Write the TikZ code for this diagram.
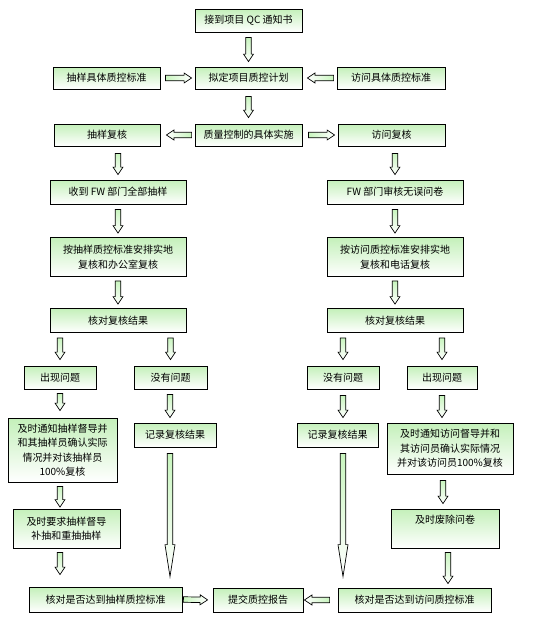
\documentclass[tikz,border=0pt]{standalone}
\usepackage{fontspec}
\setmainfont{Noto Sans CJK SC}
\usetikzlibrary{calc}
\definecolor{boxgreen}{RGB}{196,240,186}
\definecolor{arrgreen}{RGB}{200,245,190}
\tikzset{
  boxtext/.style={font=\fontsize{10}{14.5}\selectfont, align=center, inner sep=1pt},
  box/.style={boxtext, draw=black, line width=0.8pt, top color=boxgreen, bottom color=white},
  barr/.style={draw=black, line width=0.7pt, top color=arrgreen, bottom color=white},
  dn/.style={shading angle=0},
  rt/.style={shading angle=90},
  lt/.style={shading angle=270}
}
\newcommand\bx[6]{\node[box, minimum width=#4pt, minimum height=#5pt] (#1) at (#2,#3) {#6};}
\newcommand\barrow[6]{%
  \path (#2) coordinate (ba0) (#3) coordinate (bb0);
  \path ($(ba0)!#4!(bb0)$) coordinate (ba) ($(bb0)!#5!(ba0)$) coordinate (bb);
  \path ($(bb)!#6!(ba)$) coordinate (bh);
  \draw[barr,#1] ($(ba)!2.75pt!90:(bb)$) -- ($(bh)!2.75pt!-90:(ba)$) -- ($(bh)!5pt!-90:(ba)$) -- (bb)
     -- ($(bh)!5pt!90:(ba)$) -- ($(bh)!2.75pt!90:(ba)$) -- ($(ba)!2.75pt!-90:(bb)$) -- cycle;
}
\begin{document}
\begin{tikzpicture}[x=1pt,y=-1pt]
\useasboundingbox (0,0) rectangle (540,637);
% boxes
\bx{top}{248.5}{20.5}{107}{23}{接到项目 QC 通知书}
\bx{sl}{106.5}{78}{107}{22}{抽样具体质控标准}
\bx{plan}{248.5}{78}{107}{22}{拟定项目质控计划}
\bx{sr}{391}{78}{108}{22}{访问具体质控标准}
\bx{lrev}{107}{135}{106}{22}{抽样复核}
\bx{impl}{248.5}{135}{107}{22}{质量控制的具体实施}
\bx{rrev}{391.5}{135}{107}{22}{访问复核}
\bx{L1}{118}{192}{136}{24}{收到 FW 部门全部抽样}
\bx{R1}{395}{192}{136}{24}{FW 部门审核无误问卷}
\bx{L2}{118}{257}{136}{39}{按抽样质控标准安排实地\\复核和办公室复核}
\bx{R2}{395}{257}{136}{39}{按访问质控标准安排实地\\复核和电话复核}
\bx{L3}{118}{320.5}{136}{24}{核对复核结果}
\bx{R3}{395}{320.5}{136}{24}{核对复核结果}
\bx{Lp}{60}{377.5}{72}{23}{出现问题}
\bx{Ln}{170.5}{377.5}{73}{23}{没有问题}
\bx{Rn}{343}{377.5}{72}{23}{没有问题}
\bx{Rp}{442}{377.5}{70}{23}{出现问题}
\bx{Lbig}{62.5}{450}{109}{64}{及时通知抽样督导并\\和其抽样员确认实际\\情况并对该抽样员\\100\%复核}
\bx{Lrec}{175}{435}{82}{24}{记录复核结果}
\bx{Rrec}{337.5}{435}{81}{24}{记录复核结果}
\bx{Rbig}{450}{448.5}{126}{51}{及时通知访问督导并和\\其访问员确认实际情况\\并对该访问员100\%复核}
\bx{Lfix}{66.5}{528.5}{107}{39}{及时要求抽样督导\\补抽和重抽抽样}
\bx{Rfix}{445}{528.5}{108}{39}{}
\node[boxtext, anchor=north] (Rfixt) at ($(Rfix.north)+(0,5)$) {及时废除问卷};
\bx{Lchk}{105.5}{599.5}{153}{25}{核对是否达到抽样质控标准}
\bx{rep}{258}{600}{90}{24}{提交质控报告}
\bx{Rchk}{414.5}{600}{153}{24}{核对是否达到访问质控标准}
% columns
\coordinate (cL) at (60,0);
\coordinate (cLn) at (170,0);
\coordinate (cRn) at (343,0);
\coordinate (cRb) at (443,0);
\coordinate (cRf) at (448,0);
% arrows
\barrow{dn}{top.south}{plan.north}{5pt}{5pt}{7.5pt}
\barrow{rt}{sl.east}{plan.west}{5pt}{3pt}{7.5pt}
\barrow{lt}{sr.west}{plan.east}{3pt}{5pt}{7.5pt}
\barrow{dn}{plan.south}{impl.north}{7pt}{6pt}{7.5pt}
\barrow{lt}{impl.west}{lrev.east}{3pt}{6pt}{7.5pt}
\barrow{rt}{impl.east}{rrev.west}{6pt}{3pt}{7.5pt}
\barrow{dn}{lrev.south -| L1.north}{L1.north}{7pt}{5pt}{7.5pt}
\barrow{dn}{rrev.south -| R1.north}{R1.north}{7pt}{5pt}{7.5pt}
\barrow{dn}{L1.south}{L2.north}{5pt}{4pt}{7.5pt}
\barrow{dn}{R1.south}{R2.north}{5pt}{4pt}{7.5pt}
\barrow{dn}{L2.south}{L3.north}{4pt}{4pt}{7.5pt}
\barrow{dn}{R2.south}{R3.north}{4pt}{4pt}{7.5pt}
\barrow{dn}{L3.south -| Lp.north}{Lp.north}{5pt}{6pt}{7.5pt}
\barrow{dn}{L3.south -| Ln.north}{Ln.north}{5pt}{6pt}{7.5pt}
\barrow{dn}{R3.south -| Rn.north}{Rn.north}{5pt}{6pt}{7.5pt}
\barrow{dn}{R3.south -| Rp.north}{Rp.north}{5pt}{6pt}{7.5pt}
\barrow{dn}{Lp.south}{Lp.south |- Lbig.north}{4pt}{7pt}{7.5pt}
\barrow{dn}{Ln.south -| cLn}{Lrec.north -| cLn}{5pt}{5pt}{7.5pt}
\barrow{dn}{Rn.south}{Rn.south |- Rrec.north}{6pt}{5pt}{7.5pt}
\barrow{dn}{Rp.south}{Rp.south |- Rbig.north}{6pt}{5pt}{7.5pt}
\barrow{dn}{Lbig.south -| cL}{Lfix.north -| cL}{4pt}{1.5pt}{7.5pt}
\barrow{dn}{Rbig.south -| cRb}{Rfix.north -| cRb}{6pt}{5pt}{7.5pt}
\barrow{dn}{Lfix.south -| cL}{Lchk.north -| cL}{4pt}{12pt}{7.5pt}
\barrow{dn}{Rfix.south -| cRf}{Rchk.north -| cRf}{4pt}{4pt}{7.5pt}
\barrow{dn}{Lrec.south -| cLn}{Lchk.north -| cLn}{6pt}{10pt}{32pt}
\barrow{dn}{Rrec.south -| cRn}{Rchk.north -| cRn}{6pt}{11pt}{32pt}
\barrow{rt}{Lchk.east}{rep.west}{1pt}{5pt}{7.5pt}
\barrow{lt}{Rchk.west}{rep.east}{8pt}{1pt}{7.5pt}
\end{tikzpicture}
\end{document}
